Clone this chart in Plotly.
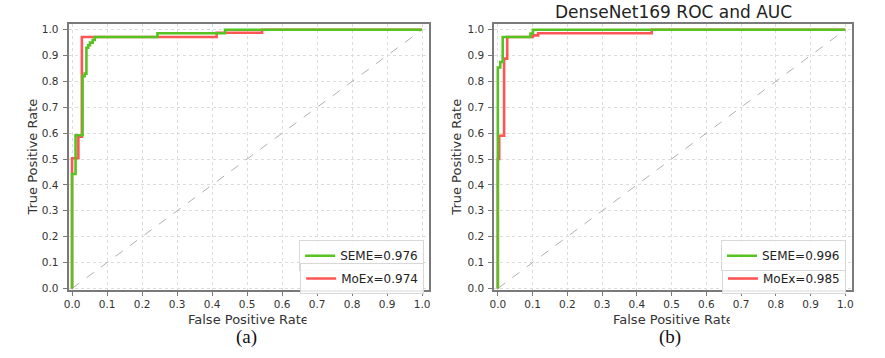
import plotly.graph_objects as go

# ---------------- data ----------------
tick_vals = [0.0, 0.1, 0.2, 0.3, 0.4, 0.5, 0.6, 0.7, 0.8, 0.9, 1.0]
tick_text = ["0.0", "0.1", "0.2", "0.3", "0.4", "0.5", "0.6", "0.7", "0.8", "0.9", "1.0"]

# panel (a)
a_seme_fpr = [0, 0, 0.01, 0.01, 0.03, 0.03, 0.036, 0.036, 0.041, 0.041, 0.046, 0.046,
              0.051, 0.051, 0.059, 0.059, 0.065, 0.065, 0.244, 0.244, 0.437, 0.437, 1.0]
a_seme_tpr = [0, 0.442, 0.442, 0.592, 0.592, 0.82, 0.82, 0.83, 0.83, 0.93, 0.93, 0.94,
              0.94, 0.95, 0.95, 0.96, 0.96, 0.972, 0.972, 0.986, 0.986, 1.0, 1.0]
a_moex_fpr = [0, 0, 0.018, 0.018, 0.028, 0.028, 0.413, 0.413, 0.543, 0.543, 1.0]
a_moex_tpr = [0, 0.503, 0.503, 0.586, 0.586, 0.972, 0.972, 0.988, 0.988, 1.0, 1.0]
a_seme_label = "SEME=0.976"
a_moex_label = "MoEx=0.974"

# panel (b)
b_seme_fpr = [0, 0, 0.007, 0.007, 0.014, 0.014, 0.094, 0.094, 0.101, 0.101, 1.0]
b_seme_tpr = [0, 0.854, 0.854, 0.875, 0.875, 0.972, 0.972, 0.985, 0.985, 1.0, 1.0]
b_moex_fpr = [0, 0, 0.004, 0.004, 0.018, 0.018, 0.027, 0.027, 0.101, 0.101,
              0.116, 0.116, 0.443, 0.443, 1.0]
b_moex_tpr = [0, 0.5, 0.5, 0.59, 0.59, 0.888, 0.888, 0.972, 0.972, 0.978,
              0.978, 0.986, 0.986, 1.0, 1.0]
b_seme_label = "SEME=0.996"
b_moex_label = "MoEx=0.985"

chance = [0.0, 1.0]

title_b = "DenseNet169 ROC and AUC"
x_title = "False Positive Rate"
y_title = "True Positive Rate"
panel_labels = ["(a)", "(b)"]

# ---------------- style ----------------
GREEN = "#56c320"
RED = "#ff5555"
SPINE = "#7a7a7a"
TXT = "#333333"
W, H = 885, 358


def px(x):
    return x / W


def py(y):
    return 1 - y / H


fig = go.Figure()


def add_panel(xa, ya, seme_x, seme_y, moex_x, moex_y, seme_lab, moex_lab, lg1, lg2):
    fig.add_trace(go.Scatter(x=chance, y=chance, mode="lines", xaxis=xa, yaxis=ya,
                             line=dict(color="#b0b0b0", width=1, dash="dash"),
                             showlegend=False, hoverinfo="skip"))
    fig.add_trace(go.Scatter(x=moex_x, y=moex_y, mode="lines", xaxis=xa, yaxis=ya,
                             line=dict(color=RED, width=2.6), name=moex_lab, legend=lg2))
    fig.add_trace(go.Scatter(x=seme_x, y=seme_y, mode="lines", xaxis=xa, yaxis=ya,
                             line=dict(color=GREEN, width=2.6), name=seme_lab, legend=lg1))


add_panel("x", "y", a_seme_fpr, a_seme_tpr, a_moex_fpr, a_moex_tpr,
          a_seme_label, a_moex_label, "legend", "legend2")
add_panel("x2", "y2", b_seme_fpr, b_seme_tpr, b_moex_fpr, b_moex_tpr,
          b_seme_label, b_moex_label, "legend3", "legend4")

ydom = [py(293), py(24)]
xdom1 = [px(64), px(427)]
xdom2 = [px(492.7), px(853)]

axis_common = dict(
    tickvals=tick_vals, ticktext=tick_text,
    showgrid=True, gridcolor="#dcdcdc", griddash="dot", gridwidth=1,
    showline=True, mirror=True, linecolor=SPINE, linewidth=2,
    ticks="outside", ticklen=4, tickcolor=SPINE, tickwidth=1,
    tickfont=dict(family="DejaVu Sans", size=10.5, color=TXT),
    zeroline=False, fixedrange=True,
)
xr = [-0.01, 1.02]
yr = [-0.005, 1.023]

fig.update_layout(
    width=W, height=H,
    margin=dict(l=0, r=0, t=0, b=0),
    paper_bgcolor="white", plot_bgcolor="white",
    xaxis=dict(domain=xdom1, range=xr, anchor="y", ticklabelstandoff=0, **axis_common),
    yaxis=dict(domain=ydom, range=yr, anchor="x", ticklabelstandoff=2, **axis_common),
    xaxis2=dict(domain=xdom2, range=xr, anchor="y2", ticklabelstandoff=0, **axis_common),
    yaxis2=dict(domain=ydom, range=yr, anchor="x2", ticklabelstandoff=2, **axis_common),
    font=dict(family="DejaVu Sans", color=TXT),
)

leg_common = dict(bgcolor="rgba(255,255,255,0.85)", bordercolor="#d8d8d8", borderwidth=1,
                  font=dict(family="DejaVu Sans", size=12, color="#222222"),
                  xanchor="right", yanchor="top", itemwidth=30,
                  tracegroupgap=0)
fig.update_layout(
    legend=dict(x=px(422), y=py(243), **leg_common),
    legend2=dict(x=px(422), y=py(266), **leg_common),
    legend3=dict(x=px(846.7), y=py(243), **leg_common),
    legend4=dict(x=px(846.7), y=py(266), **leg_common),
)

ann = []
# title of panel (b)
ann.append(dict(text=title_b, x=(xdom2[0] + xdom2[1]) / 2, y=py(12), xref="paper", yref="paper",
                showarrow=False, font=dict(family="DejaVu Sans", size=17, color="#222222"),
                xanchor="center", yanchor="middle"))
# x-axis titles: the source image cuts the last letter off, so the text box is
# given a fixed width that clips it at the same place
for xd, ycx, cut_x in [(xdom1, 28, 302), (xdom2, 455, 727.5)]:
    cx_px = (xd[0] + xd[1]) / 2 * W
    start_px = cx_px - 62
    ann.append(dict(text=x_title, x=px(start_px), y=py(323), xref="paper", yref="paper",
                    showarrow=False, font=dict(family="DejaVu Sans", size=13, color=TXT),
                    xanchor="left", yanchor="middle", align="left",
                    width=cut_x - start_px, borderpad=0))
    ann.append(dict(text=y_title, x=px(ycx), y=(ydom[0] + ydom[1]) / 2, xref="paper", yref="paper",
                    showarrow=False, textangle=-90,
                    font=dict(family="DejaVu Sans", size=13, color=TXT),
                    xanchor="center", yanchor="middle"))
for lab, lx in zip(panel_labels, [243, 670]):
    ann.append(dict(text=lab, x=px(lx), y=py(341), xref="paper", yref="paper",
                    showarrow=False, font=dict(family="Liberation Serif", size=19, color="#111111"),
                    xanchor="center", yanchor="middle"))
fig.update_layout(annotations=ann)

# remove the browser's default page margin so the figure sits at the window's corner
fig.write_html("out.html", config={"displayModeBar": False},
               post_script="document.body.style.margin='0';")
